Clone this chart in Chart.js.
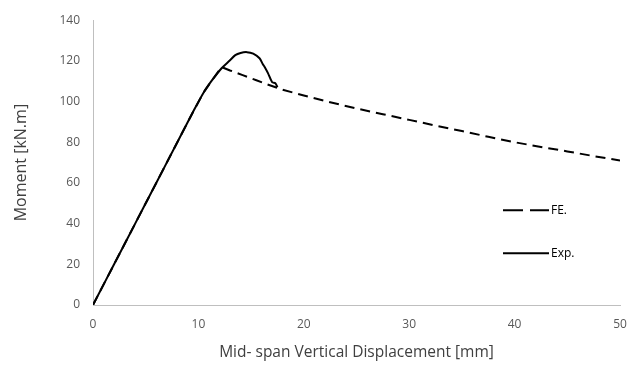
<!DOCTYPE html>
<html>
<head>
<meta charset="utf-8">
<script src="https://cdn.jsdelivr.net/npm/chart.js@4"></script>
<style>
  html, body { margin: 0; padding: 0; background: #fff; }
  #wrap { width: 643px; height: 378px; }
</style>
</head>
<body>
<div id="wrap"><canvas id="graphe"></canvas></div>
<script>
// valeurs
const feX = [0, 4, 8, 9.5, 10.5, 11.3, 12.2, 13.0, 14.2, 15.5, 16.5, 18, 20, 22.5, 25, 27.5, 30, 32.5, 35, 37.5, 40, 42.5, 45, 47.5, 50];
const feY = [0, 40, 80, 95, 104.5, 110.5, 117, 115.3, 113, 110.5, 108.5, 105.8, 103, 99.7, 96.6, 93.8, 91, 88.2, 85.5, 82.7, 80, 77.7, 75.5, 73.2, 71];

const expX = [0, 2, 4, 6, 8, 9.5, 10.5, 11.3, 12.2, 13.0, 13.5, 14.0, 14.6, 15.2, 15.8, 16.1, 16.3, 16.6, 17.0, 17.3, 17.5];
const expY = [0, 20, 40, 60, 80, 95, 104.5, 110.5, 116.4, 120.3, 122.8, 123.9, 124.3, 123.6, 121.3, 118.5, 116.9, 114, 109.5, 109, 107];

const xTicks = [0, 10, 20, 30, 40, 50];
const yTicks = [0, 20, 40, 60, 80, 100, 120, 140];

function points(x, y) {
    return x.map((v, i) => ({ x: v, y: y[i] }));
}

// legende dessinée dans la zone du graphique
const legendeInterne = {
    id: 'legendeInterne',
    afterDraw(chart) {
        const ctx = chart.ctx;
        const a = chart.chartArea;
        const x0 = a.left + 410;
        const items = [
            { txt: 'FE.', dash: [20, 7], y: a.top + 190 },
            { txt: 'Exp.', dash: [], y: a.top + 233 }
        ];
        ctx.save();
        items.forEach(it => {
            ctx.beginPath();
            ctx.setLineDash(it.dash);
            ctx.lineWidth = 2;
            ctx.strokeStyle = '#000';
            ctx.moveTo(x0, it.y);
            ctx.lineTo(x0 + 46, it.y);
            ctx.stroke();
            ctx.setLineDash([]);
            ctx.fillStyle = '#000';
            ctx.font = '12px "Open Sans"';
            ctx.textBaseline = 'middle';
            ctx.fillText(it.txt, x0 + 48, it.y);
        });
        ctx.restore();
    }
};

const ctx = document.getElementById('graphe');
new Chart(ctx, {
    type: 'line',
    data: {
        datasets: [
            {
                label: 'FE.',
                data: points(feX, feY),
                borderColor: '#000',
                borderWidth: 2,
                borderDash: [10, 6],
                pointRadius: 0,
                tension: 0,
                fill: false
            },
            {
                label: 'Exp.',
                data: points(expX, expY),
                borderColor: '#000',
                borderWidth: 2,
                pointRadius: 0,
                tension: 0.3,
                fill: false
            }
        ]
    },
    options: {
        responsive: true,
        maintainAspectRatio: false,
        animation: false,
        layout: { padding: { left: 0, right: 23, top: 20, bottom: 0 } },
        plugins: {
            legend: { display: false },
            tooltip: { enabled: false }
        },
        scales: {
            x: {
                type: 'linear',
                min: 0,
                max: 50,
                afterBuildTicks: s => { s.ticks = xTicks.map(v => ({ value: v })); },
                afterFit: s => { s.height = 73; },
                grid: { display: false, drawTicks: false },
                border: { display: true, color: '#bfbfbf', width: 1 },
                ticks: { color: '#595959', font: { family: 'Open Sans', size: 12 }, padding: 12, maxRotation: 0 },
                title: {
                    display: true,
                    text: 'Mid- span Vertical Displacement [mm]',
                    color: '#404040',
                    font: { family: 'Open Sans', size: 15.5 },
                    padding: { top: 0, bottom: 16 }
                }
            },
            y: {
                type: 'linear',
                min: 0,
                max: 140,
                afterBuildTicks: s => { s.ticks = yTicks.map(v => ({ value: v })); },
                afterFit: s => { s.width = 93; },
                grid: { display: false, drawTicks: false },
                border: { display: true, color: '#bfbfbf', width: 1 },
                ticks: { color: '#595959', font: { family: 'Open Sans', size: 12 }, padding: 13 },
                title: {
                    display: true,
                    text: 'Moment [kN.m]',
                    color: '#404040',
                    font: { family: 'Open Sans', size: 16 },
                    padding: { top: 12, bottom: 0 }
                }
            }
        }
    },
    plugins: [legendeInterne]
});
</script>
</body>
</html>
